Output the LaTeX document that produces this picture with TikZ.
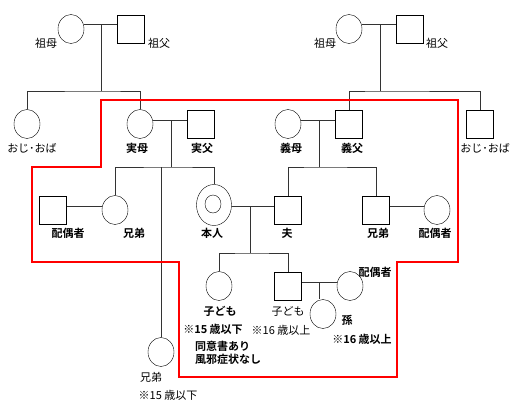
\documentclass[tikz,border=0pt]{standalone}
\usepackage{fontspec}
\newfontfamily\jp{Noto Sans CJK JP}[BoldFont={Noto Sans CJK JP Bold}]
\usetikzlibrary{shapes.geometric}
\tikzset{
  fem/.style={draw, ellipse, minimum width=26pt, minimum height=29pt, inner sep=0pt},
  mal/.style={draw, rectangle, minimum width=27pt, minimum height=28pt, inner sep=0pt},
  ln/.style={draw=black!80, line width=0.8pt},
  tag/.style={font=\jp\fontsize{11}{13}\selectfont, inner sep=0pt},
  btag/.style={font=\jp\bfseries\fontsize{11}{13}\selectfont, inner sep=0pt},
}
\begin{document}
\begin{tikzpicture}[x=1pt,y=-1pt]
\useasboundingbox (0,0) rectangle (520,407);
% grandparents, left side
\node[fem] (gmL) at (71,29) {};
\node[mal] (gfL) at (131,29) {};
\node[fem] (auntL) at (27,124) {};
\node[fem] (mom) at (140,124) {};
\node[mal] (dad) at (201,124) {};
% grandparents, right side
\node[fem] (gmR) at (349,29) {};
\node[mal] (gfR) at (410,29) {};
\node[fem] (mil) at (288,124) {};
\node[mal] (fil) at (349,124) {};
\node[mal] (auntR) at (480,124) {};
% own generation
\node[mal] (spL) at (53,210) {};
\node[fem] (sibL) at (115,210) {};
\node[fem, minimum width=35pt, minimum height=41pt] (self) at (214,205) {};
\node[fem, minimum width=16pt, minimum height=18pt] (selfin) at (213,204) {};
\node[mal] (hus) at (288,210) {};
\node[mal] (sibR) at (376,210) {};
\node[fem] (spR) at (437,210) {};
\node[fem] (sibB) at (161,352) {};
% children and grandchild
\node[fem] (kidA) at (219,286) {};
\node[mal] (kidB) at (288,286) {};
\node[fem] (kidSp) at (350,286) {};
\node[fem] (grand) at (323,314) {};
% junctions
\coordinate (jL) at (101,24); \coordinate (bL) at (101,91);
\coordinate (jR) at (380,24); \coordinate (bR) at (380,91);
\coordinate (jP) at (171,120); \coordinate (bP) at (171,167);
\coordinate (jI) at (319,120); \coordinate (bI) at (319,167);
\coordinate (jS) at (250,206); \coordinate (bS) at (250,253);
\coordinate (jK) at (319,282);
\coordinate (jA) at (84,206); \coordinate (jB) at (406,206);
\foreach \a/\b/\j in {gmL/gfL/jL, gmR/gfR/jR, mom/dad/jP, mil/fil/jI,
  spL/sibL/jA, self/hus/jS, sibR/spR/jB, kidB/kidSp/jK}
  \draw[ln] (\a.east |- \j) -- (\b.west |- \j);
\foreach \j/\b in {jL/bL, jR/bR, jP/bP, jI/bI, jS/bS}
  \draw[ln] (\j) -- (\b);
\draw[ln] (jK) -- (jK |- grand.north);
\draw[ln] (auntL.north) |- (bL) -| (mom.north);
\draw[ln] (fil.north) |- (bR) -| (auntR.north);
\draw[ln] (sibL.north) |- (bP) -| (self.north);
\draw[ln] (sibB.north) -- (sibB.north |- bP);
\draw[ln] (hus.north) |- (bI) -| (sibR.north);
\draw[ln] (kidA.north) |- (bS) -| (kidB.north);
% red frame
\draw[red, line width=2.6pt] (101,100) -- (458,100) -- (458,262) -- (397,262)
  -- (397,377) -- (179,377) -- (179,262) -- (32,262) -- (32,167) -- (101,167) -- cycle;
% labels
\node[tag] (tGmL) at (46,43) {祖母};
\node[tag] (tGfL) at (159,43) {祖父};
\node[tag] (tAuntL) at (32,148) {おじ･おば};
\node[btag] (tMom) at (137,148) {実母};
\node[btag] (tDad) at (202,148) {実父};
\node[tag] (tGmR) at (325,43) {祖母};
\node[tag] (tGfR) at (437,43) {祖父};
\node[btag] (tMil) at (291,148) {義母};
\node[btag] (tFil) at (352,148) {義父};
\node[tag] (tAuntR) at (485,148) {おじ･おば};
\node[btag] (tSpL) at (68,233) {配偶者};
\node[btag] (tSibL) at (134,233) {兄弟};
\node[btag] (tSelf) at (212,233) {本人};
\node[btag] (tHus) at (287,233) {夫};
\node[btag] (tSibR) at (378,233) {兄弟};
\node[btag] (tSpR) at (435,233) {配偶者};
\node[btag] (tKidSp) at (375,272) {配偶者};
\node[btag] (tKidA) at (220,311) {子ども};
\node[btag] (tKidA1) at (213,329) {※15 歳以下};
\node[btag, anchor=west] (tKidA2) at (195,346) {同意書あり};
\node[btag, anchor=west] (tKidA3) at (195,359) {風邪症状なし};
\node[tag] (tKidB) at (288,311) {子ども};
\node[tag] (tKidB1) at (281,330) {※16 歳以上};
\node[btag] (tGrand) at (347,320) {孫};
\node[btag] (tGrand1) at (362,339) {※16 歳以上};
\node[tag] (tSibB) at (151,377) {兄弟};
\node[tag] (tSibB1) at (168,395) {※15 歳以下};
\end{tikzpicture}
\end{document}
